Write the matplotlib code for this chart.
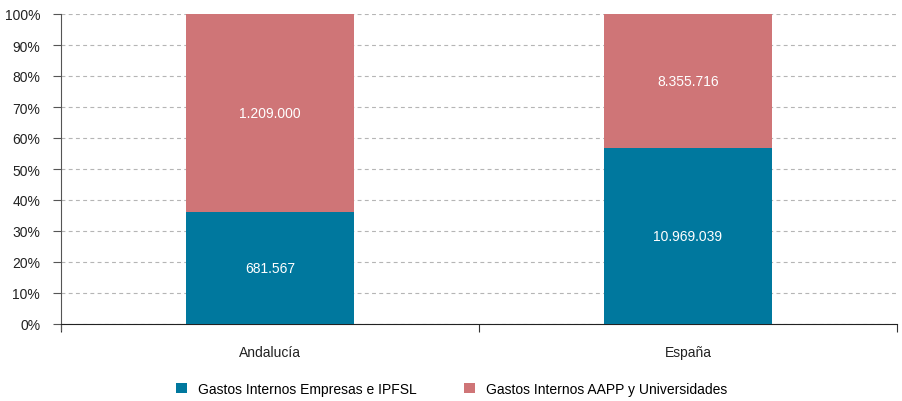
import numpy as np
import matplotlib
matplotlib.use("Agg")
import matplotlib.pyplot as plt
from matplotlib.ticker import PercentFormatter

categories = ["Andalucía", "España"]
empresas = [681567, 10969039]
aapp = [1209000, 8355716]
series_names = ["Gastos Internos Empresas e IPFSL", "Gastos Internos AAPP y Universidades"]
colors = ["#00789e", "#cf7577"]


def fmt_es(v):
    return f"{v:,}".replace(",", ".")


plt.rcParams['font.family'] = ['Liberation Sans', 'DejaVu Sans']

emp = np.array(empresas, dtype=float)
ap = np.array(aapp, dtype=float)
total = emp + ap
emp_pct = emp / total * 100
ap_pct = ap / total * 100

fig = plt.figure(figsize=(9.03, 4.02), dpi=100)
ax = fig.add_axes([61 / 903, 77 / 402, 836 / 903, 310 / 402])

x = np.arange(len(categories))
b1 = ax.bar(x, emp_pct, width=0.4, color=colors[0], label=series_names[0], zorder=3)
b2 = ax.bar(x, ap_pct, width=0.4, bottom=emp_pct, color=colors[1], label=series_names[1], zorder=3)

for i in range(len(categories)):
    ax.text(x[i], emp_pct[i] / 2, fmt_es(empresas[i]), ha='center', va='center',
            color='white', fontsize=10, zorder=4)
    ax.text(x[i], emp_pct[i] + ap_pct[i] / 2, fmt_es(aapp[i]), ha='center', va='center',
            color='white', fontsize=10, zorder=4)

ax.set_xlim(-0.5, len(categories) - 0.5)
ax.set_ylim(0, 100)
ax.set_yticks(np.arange(0, 101, 10))
ax.yaxis.set_major_formatter(PercentFormatter(decimals=0))
ax.set_xticks(x)
ax.set_xticklabels(categories)
ax.set_xticks(np.arange(-0.5, len(categories), 1), minor=True)
ax.tick_params(axis='x', which='major', length=0, pad=15, labelsize=10, colors='#222222')
ax.tick_params(axis='x', which='minor', length=6, width=0.8, color='#333333')
ax.tick_params(axis='y', length=6, width=0.8, color='#555555', labelsize=10,
               labelcolor='#222222', pad=9)

ax.grid(axis='y', linestyle=(0, (3.5, 3)), color='#b5b5b5', linewidth=0.8, zorder=0)
for s in ['top', 'right']:
    ax.spines[s].set_visible(False)
ax.spines['left'].set_color('#555555')
ax.spines['bottom'].set_color('#222222')
ax.spines['left'].set_bounds(-2, 100)

fig.legend(handles=[b1, b2], loc='center', bbox_to_anchor=(0.5, 1 - 390 / 402),
           ncol=2, frameon=False, fontsize=10, handlelength=0.8, handleheight=0.8,
           columnspacing=3.4, handletextpad=0.8)

fig.savefig("out.png", dpi=100)
